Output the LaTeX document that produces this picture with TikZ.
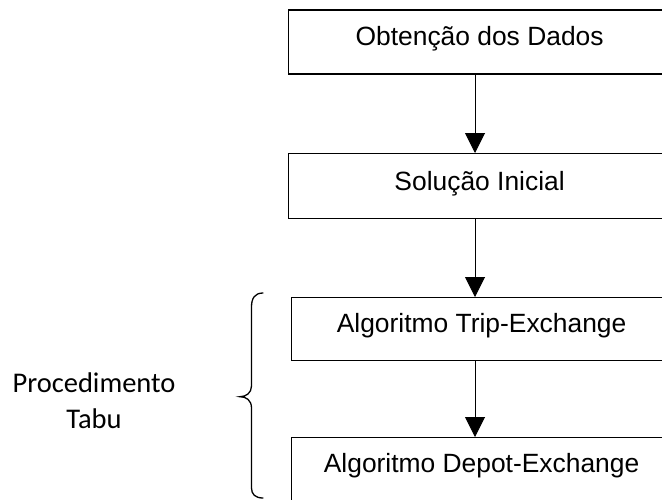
\documentclass[tikz,border=0pt]{standalone}
\usepackage{fontspec}
\setmainfont{Liberation Sans}
\newfontfamily\calibri{Carlito}
\usetikzlibrary{arrows.meta}
\begin{document}
\begin{tikzpicture}[x=1pt,y=-1pt,
  box/.style={draw, line width=1.2pt, inner sep=0pt, anchor=north west,
    font=\fontsize{26.4}{30}\selectfont},
  arr/.style={line width=1pt, -{Triangle[width=20pt,length=20pt]}},
  bracestyle/.style={line width=1.3pt, line cap=round}]
\useasboundingbox (0,0) rectangle (662,499);
\clip (0,0) rectangle (662,499);
\fill[white] (0,0) rectangle (662,499);
\node[box, minimum width=383pt, text height=36pt, text depth=28pt] (b1) at (287.5,9.3) {Obtenção dos Dados};
\node[box, minimum width=383pt, text height=37pt, text depth=28pt] (b2) at (287.5,153) {Solução Inicial};
\node[box, minimum width=380.6pt, text height=35pt, text depth=28pt] (b3) at (290.7,297) {Algoritmo Trip-Exchange};
\node[box, minimum width=380.6pt, text height=35pt, text depth=29pt] (b4) at (290.7,437) {Algoritmo Depot-Exchange};
\coordinate (ax) at (475,0);
\draw[arr] (b1.south -| ax) -- (b2.north -| ax);
\draw[arr] (b2.south -| ax) -- (b3.north -| ax);
\draw[arr] (b3.south -| ax) -- (b4.north -| ax);
\node[align=center, anchor=base, inner sep=0pt,
  font=\calibri\fontsize{28.5}{36}\selectfont] (lbl) at (94,428) {Procedimento\\Tabu};
\draw[bracestyle] (263,293) .. controls (255,293) and (251.5,298) .. (251.5,307)
  -- (251.5,386) .. controls (251.5,393) and (246,396.7) .. (240,396.7)
  .. controls (246,396.7) and (251.5,400) .. (251.5,408)
  -- (251.5,488) .. controls (251.5,494) and (255,498) .. (263,498);
\end{tikzpicture}
\end{document}
